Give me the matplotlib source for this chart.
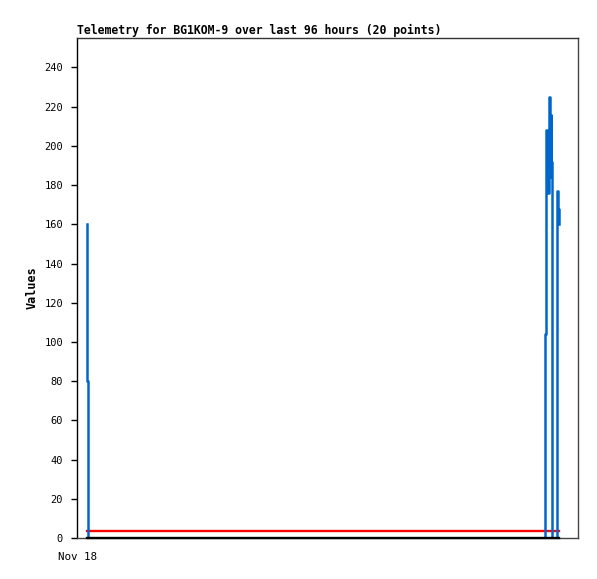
import matplotlib
matplotlib.use("Agg")
import matplotlib.pyplot as plt

# hours since start of window (Nov 18 00:00), 96 hour window
hours = [1.82, 1.95, 2.11, 20.0, 40.0, 60.0, 80.0, 89.68, 89.77, 89.96,
         90.06, 90.54, 90.64, 90.83, 90.92, 91.02, 91.5, 92.07, 92.17, 92.36]
values = [160, 80, 0, 0, 0, 0, 0, 0, 104, 208,
          176, 225, 184, 216, 192, 0, 0, 177, 168, 160]
red_level = [3.7] * len(hours)
black_level = [0] * len(hours)

yticks = list(range(0, 241, 20))
xtick_labels = ["Nov 18"]

plt.rcParams['font.family'] = ['DejaVu Sans Mono']

fig = plt.figure(figsize=(5.97, 5.79), dpi=100)
ax = fig.add_axes([0.129, 0.0708, 0.839, 0.8635])

ax.plot(hours, red_level, color='#ff0000', lw=1.7, zorder=2)
ax.plot(hours, values, color='#0066cc', lw=1.8, zorder=3, drawstyle='steps-post')
ax.plot(hours, black_level, color='black', lw=1.7, zorder=4, clip_on=False)

ax.set_xlim(0, 96)
ax.set_ylim(0, 255)
ax.set_yticks(yticks)
ax.set_yticklabels([str(v) for v in yticks], fontsize=7.5)
ax.set_xticks([0])
ax.set_xticklabels(xtick_labels, fontsize=7.8)
ax.tick_params(axis='y', length=4, width=1, direction='out', pad=6)
ax.tick_params(axis='x', length=0, pad=10)

ax.spines['left'].set_color('black')
ax.spines['bottom'].set_color('#444444')
ax.spines['top'].set_color('#333333')
ax.spines['right'].set_color('#444444')
for s in ax.spines.values():
    s.set_linewidth(1)

ax.set_ylabel("Values", fontsize=8.5, fontweight='bold', labelpad=4)
ax.set_title("Telemetry for BG1KOM-9 over last 96 hours (20 points)",
             fontsize=8.3, fontweight='bold', loc='left', pad=3)

fig.savefig("out.png", dpi=100)
